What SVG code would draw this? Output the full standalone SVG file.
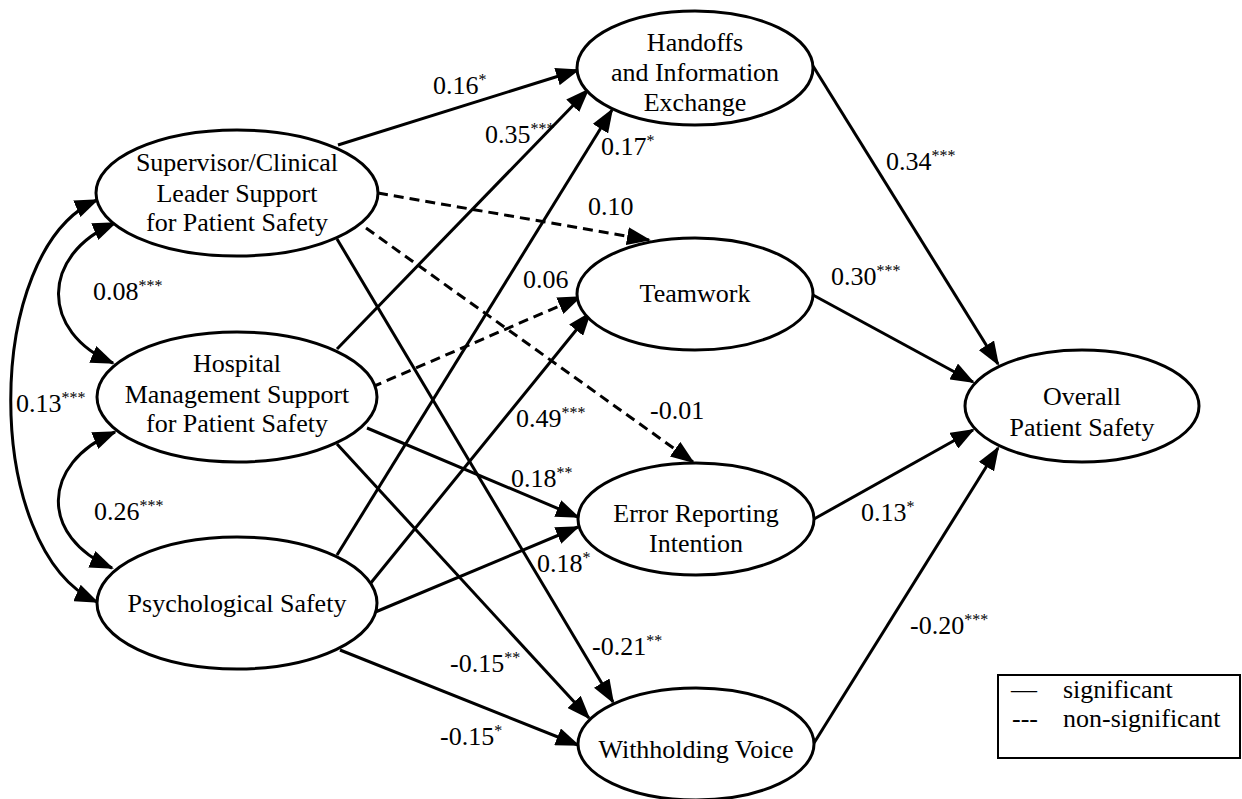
<svg xmlns="http://www.w3.org/2000/svg" width="1242" height="799" viewBox="0 0 1242 799">
<style>
text{font-family:Liberation Serif, DejaVu Serif, serif;font-size:26px;fill:#000}
.n{text-anchor:middle}
.s{font-size:16px}
ellipse{fill:#fff;stroke:#000;stroke-width:3}
.e{fill:none;stroke:#000;stroke-width:3}
.d{stroke-dasharray:10 6}
</style>
<defs>
<marker id="a" markerUnits="userSpaceOnUse" markerWidth="24" markerHeight="18" refX="22" refY="9" orient="auto-start-reverse">
<path d="M0,0 L24,9 L0,18 z" fill="#000"/>
</marker>
</defs>
<g id="connectors">
<path class="e" d="M97,200 C-18,250 -18,550 97,602" marker-start="url(#a)" marker-end="url(#a)"/>
<path class="e" d="M115,223 C40,255 40,332 113,363" marker-start="url(#a)" marker-end="url(#a)"/>
<path class="e" d="M115,432 C40,464 40,537 112,568" marker-start="url(#a)" marker-end="url(#a)"/>
<line class="e" x1="338" y1="145" x2="578" y2="70" marker-end="url(#a)"/>
<line class="e" x1="337" y1="349" x2="588" y2="90" marker-end="url(#a)"/>
<line class="e" x1="337" y1="555" x2="612" y2="110" marker-end="url(#a)"/>
<line class="e d" x1="378" y1="193" x2="649" y2="240" marker-end="url(#a)"/>
<line class="e d" x1="366" y1="228" x2="693" y2="462" marker-end="url(#a)"/>
<line class="e d" x1="372" y1="387" x2="580" y2="297" marker-end="url(#a)"/>
<line class="e" x1="370" y1="584" x2="590" y2="313" marker-end="url(#a)"/>
<line class="e" x1="367" y1="428" x2="578" y2="517" marker-end="url(#a)"/>
<line class="e" x1="373" y1="613" x2="578" y2="527" marker-end="url(#a)"/>
<line class="e" x1="337" y1="239" x2="613" y2="702" marker-end="url(#a)"/>
<line class="e" x1="337" y1="444" x2="589" y2="718" marker-end="url(#a)"/>
<line class="e" x1="340" y1="650" x2="578" y2="745" marker-end="url(#a)"/>
<line class="e" x1="813" y1="66" x2="998" y2="364" marker-end="url(#a)"/>
<line class="e" x1="813" y1="295" x2="973" y2="382" marker-end="url(#a)"/>
<line class="e" x1="814" y1="519" x2="973" y2="430" marker-end="url(#a)"/>
<line class="e" x1="814" y1="743" x2="998" y2="448" marker-end="url(#a)"/>
</g>
<g id="edge-labels">
<text x="93" y="300">0.08<tspan class="s" dy="-9">***</tspan></text>
<text x="16" y="412">0.13<tspan class="s" dy="-9">***</tspan></text>
<text x="94" y="520">0.26<tspan class="s" dy="-9">***</tspan></text>
<text x="433" y="94">0.16<tspan class="s" dy="-9">*</tspan></text>
<text x="485" y="143">0.35<tspan class="s" dy="-9">***</tspan></text>
<text x="601" y="155">0.17<tspan class="s" dy="-9">*</tspan></text>
<text x="588" y="215">0.10</text>
<text x="650" y="419">-0.01</text>
<text x="523" y="288">0.06</text>
<text x="516" y="427">0.49<tspan class="s" dy="-9">***</tspan></text>
<text x="511" y="487">0.18<tspan class="s" dy="-9">**</tspan></text>
<text x="537" y="572">0.18<tspan class="s" dy="-9">*</tspan></text>
<text x="592" y="655">-0.21<tspan class="s" dy="-9">**</tspan></text>
<text x="450" y="672">-0.15<tspan class="s" dy="-9">**</tspan></text>
<text x="440" y="745">-0.15<tspan class="s" dy="-9">*</tspan></text>
<text x="886" y="170">0.34<tspan class="s" dy="-9">***</tspan></text>
<text x="831" y="285">0.30<tspan class="s" dy="-9">***</tspan></text>
<text x="861" y="521">0.13<tspan class="s" dy="-9">*</tspan></text>
<text x="910" y="634">-0.20<tspan class="s" dy="-9">***</tspan></text>
</g>
<g id="supervisor">
<ellipse cx="237" cy="193" rx="141" ry="63"/>
<text class="n" x="237" y="171">Supervisor/Clinical</text>
<text class="n" x="237" y="202">Leader Support</text>
<text class="n" x="237" y="231">for Patient Safety</text>
</g>
<g id="hospital">
<ellipse cx="237" cy="397" rx="140" ry="65"/>
<text class="n" x="237" y="372">Hospital</text>
<text class="n" x="237" y="403">Management Support</text>
<text class="n" x="237" y="432">for Patient Safety</text>
</g>
<g id="psychological">
<ellipse cx="237" cy="603" rx="140" ry="66"/>
<text class="n" x="237" y="612">Psychological Safety</text>
</g>
<g id="handoffs">
<ellipse cx="695" cy="68" rx="118" ry="57"/>
<text class="n" x="695" y="51">Handoffs</text>
<text class="n" x="695" y="81">and Information</text>
<text class="n" x="695" y="111">Exchange</text>
</g>
<g id="teamwork">
<ellipse cx="695" cy="294" rx="118" ry="56"/>
<text class="n" x="695" y="302">Teamwork</text>
</g>
<g id="error">
<ellipse cx="696" cy="519" rx="118" ry="56"/>
<text class="n" x="696" y="522">Error Reporting</text>
<text class="n" x="696" y="552">Intention</text>
</g>
<g id="withholding">
<ellipse cx="696" cy="744" rx="118" ry="56"/>
<text class="n" x="696" y="758">Withholding Voice</text>
</g>
<g id="overall">
<ellipse cx="1082" cy="406" rx="117" ry="56"/>
<text class="n" x="1082" y="405">Overall</text>
<text class="n" x="1082" y="436">Patient Safety</text>
</g>
<g id="legend">
<rect x="998" y="675" width="242" height="83" fill="none" stroke="#000" stroke-width="2"/>
<text x="1011" y="698">—</text>
<text x="1063" y="698">significant</text>
<text x="1012" y="727">---</text>
<text x="1063" y="727">non-significant</text>
</g>
</svg>
